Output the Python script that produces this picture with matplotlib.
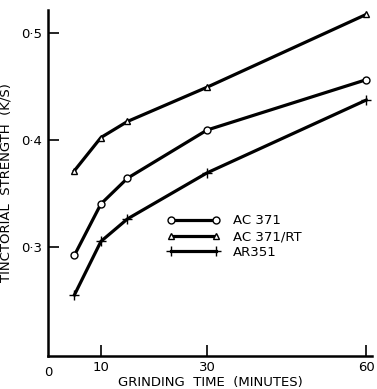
import matplotlib.pyplot as plt
from matplotlib.ticker import FuncFormatter

# grinding time (minutes) and tinctorial strength (K/S)
times = [5, 10, 15, 30, 60]
ac371 = [0.292, 0.340, 0.364, 0.409, 0.456]
ac371_rt = [0.371, 0.402, 0.417, 0.449, 0.517]
ar351 = [0.255, 0.305, 0.326, 0.369, 0.437]

xticks = [10, 30, 60]
yticks = [0.3, 0.4, 0.5]

plt.rcParams['font.family'] = ['DejaVu Sans']

fig = plt.figure(figsize=(3.77, 3.89), dpi=100)
ax = fig.add_axes([0.127, 0.085, 0.86, 0.889])

style = dict(color='black', lw=2.3, ms=5, mfc='white', mew=1.0)
ax.plot(times, ac371, marker='o', label='AC 371', **style)
ax.plot(times, ac371_rt, marker='^', label='AC 371/RT', **style)
ax.plot(times, ar351, marker='+', label='AR351', color='black', lw=2.3,
        ms=7.5, mew=1.0)

ax.set_xlim(0, 61.1)
ax.set_ylim(0.198, 0.521)
ax.spines['top'].set_visible(False)
ax.spines['right'].set_visible(False)
ax.spines['left'].set_linewidth(1.8)
ax.spines['bottom'].set_linewidth(1.8)

ax.set_xticks(xticks)
ax.set_yticks(yticks)
ax.yaxis.set_major_formatter(FuncFormatter(lambda v, p: f"{v:.1f}".replace('.', '\u00b7')))
ax.tick_params(direction='in', length=8, width=1.2, labelsize=9.5, pad=4)
ax.text(0, -0.03, '0', transform=ax.get_xaxis_transform(), ha='center',
        va='top', fontsize=9.5)

ax.set_xlabel('GRINDING  TIME  (MINUTES)', fontsize=9.5, labelpad=1)
ax.set_ylabel('TINCTORIAL  STRENGTH  (K/S)', fontsize=9.5, labelpad=6)

ax.legend(loc='center left', bbox_to_anchor=(0.33, 0.345), frameon=False,
          handlelength=4.0, numpoints=2, fontsize=9.5, labelspacing=0.2,
          handletextpad=1.0)

fig.savefig('out.png', dpi=100)
